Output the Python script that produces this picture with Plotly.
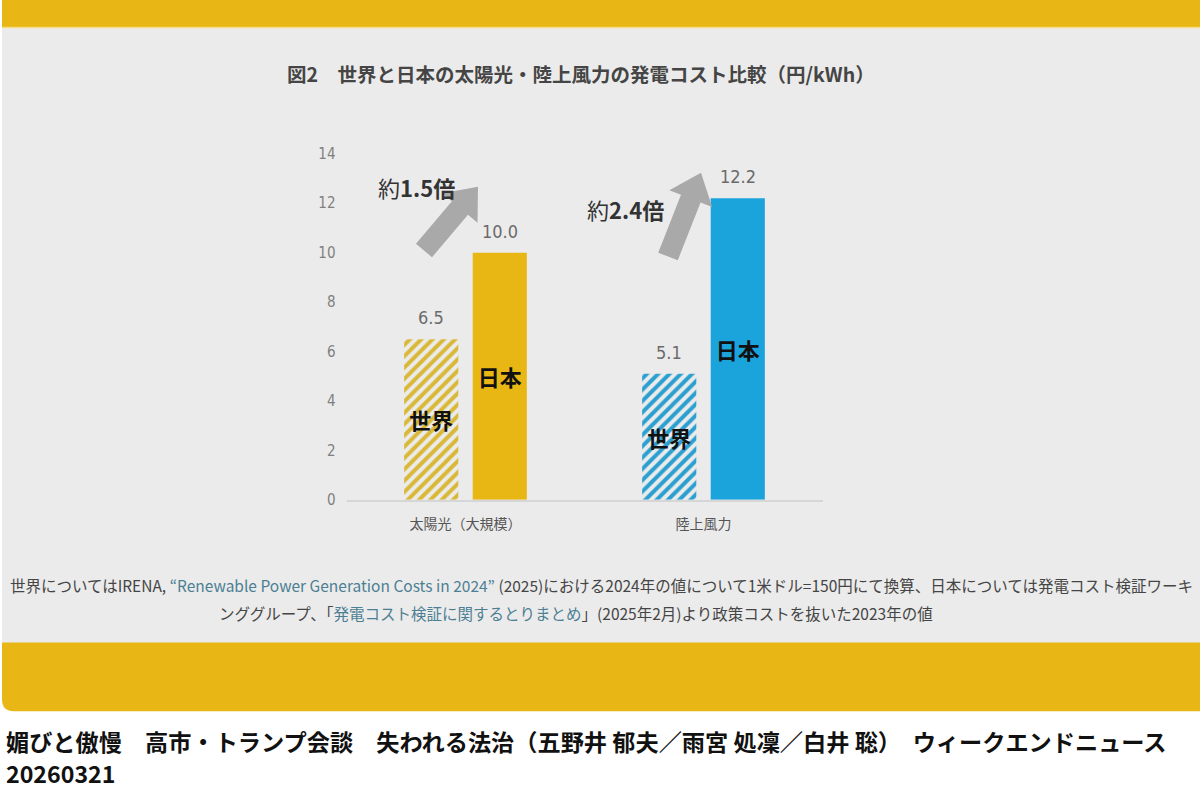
import math

import plotly.graph_objects as go

# data
CATEGORIES = ["太陽光（大規模）", "陸上風力"]
WORLD = [6.5, 5.1]
JAPAN = [10.0, 12.2]
SERIES_LABELS = ["世界", "日本"]
RATIO_LABELS = ["約<b>1.5倍</b>", "約<b>2.4倍</b>"]
Y_TICKS = [0, 2, 4, 6, 8, 10, 12, 14]

TITLE = "図2　世界と日本の太陽光・陸上風力の発電コスト比較（円/kWh）"
NOTE_1 = ("世界についてはIRENA, <span style='color:#4d7f93'>“Renewable Power Generation Costs in 2024”</span>"
          " (2025)における2024年の値について1米ドル=150円にて換算、日本については発電コスト検証ワーキ")
NOTE_2 = ("ンググループ、「<span style='color:#4d7f93'>発電コスト検証に関するとりまとめ</span>」"
          "(2025年2月)より政策コストを抜いた2023年の値")
CAPTION = ["媚びと傲慢　高市・トランプ会談　失われる法治（五野井 郁夫／雨宮 処凜／白井 聡）　ウィークエンドニュース",
           "20260321"]

# the shot sits 8px below the page top and is squeezed from 806 to 790 rows,
# so the figure is sized/positioned to land on the reference pixels
W, TOP, SCALE = 1200, 8, 790 / 806
H = 806 - TOP
YELLOW = "#e9b715"
PANEL = "#ebebeb"
SOLAR = "#e9b714"
WIND = "#1ba3dc"
STRIPE = ["#d9b837", "#2a9fd0"]
CJK = "Noto Sans CJK JP, Noto Sans, sans-serif"
NARROW = "Liberation Sans Narrow, DejaVu Sans Condensed, sans-serif"


def px(x):
    return x / W


def py(y):
    # y in reference-picture pixels from the top
    return 1 - (y / SCALE - TOP) / H


def rounded_left(x0, y0, x1, y1, r):
    """card outline with rounded left corners, paper units from pixel inputs"""
    return (f"M {px(x0)},{py(y0 + r)} Q {px(x0)},{py(y0)} {px(x0 + r)},{py(y0)} "
            f"L {px(x1)},{py(y0)} L {px(x1)},{py(y1)} L {px(x0 + r)},{py(y1)} "
            f"Q {px(x0)},{py(y1)} {px(x0)},{py(y1 - r)} Z")


def block_arrow(tail, tip, shaft=21, head=46, head_len=28):
    """fat arrow polygon (pixel in, paper path out)"""
    dx, dy = tip[0] - tail[0], tip[1] - tail[1]
    d = math.hypot(dx, dy)
    ux, uy = dx / d, dy / d
    nx, ny = -uy, ux
    neck = (tip[0] - ux * head_len, tip[1] - uy * head_len)
    pts = [
        (tail[0] + nx * shaft / 2, tail[1] + ny * shaft / 2),
        (neck[0] + nx * shaft / 2, neck[1] + ny * shaft / 2),
        (neck[0] + nx * head / 2, neck[1] + ny * head / 2),
        tip,
        (neck[0] - nx * head / 2, neck[1] - ny * head / 2),
        (neck[0] - nx * shaft / 2, neck[1] - ny * shaft / 2),
        (tail[0] - nx * shaft / 2, tail[1] - ny * shaft / 2),
    ]
    return "M " + " L ".join(f"{px(x)},{py(y)}" for x, y in pts) + " Z"


fig = go.Figure()

fig.add_trace(go.Bar(
    x=CATEGORIES, y=WORLD, name=SERIES_LABELS[0],
    text=[SERIES_LABELS[0]] * len(CATEGORIES),
    textposition="inside", insidetextanchor="middle",
    textfont=dict(family=CJK, size=22, color="#111111", weight="bold"),
    marker=dict(
        color=STRIPE,
        line=dict(width=0),
        pattern=dict(shape="/", bgcolor="#fbfbf8", size=8, solidity=0.5,
                     fillmode="replace"),
    ),
    hoverinfo="skip",
))
fig.add_trace(go.Bar(
    x=CATEGORIES, y=JAPAN, name=SERIES_LABELS[1],
    text=[SERIES_LABELS[1]] * len(CATEGORIES),
    textposition="inside", insidetextanchor="middle",
    textfont=dict(family=CJK, size=22, color="#111111", weight="bold"),
    marker=dict(color=[SOLAR, WIND], line=dict(width=0)),
    hoverinfo="skip",
))

# frame: yellow card with grey panel (top strip continues in the page background)
fig.add_shape(type="path", xref="paper", yref="paper", layer="below",
              path=rounded_left(2, -12, 1205, 712, 12), fillcolor=YELLOW, line_width=0)
fig.add_shape(type="rect", xref="paper", yref="paper", layer="below",
              x0=px(2), x1=px(1205), y0=py(643), y1=py(27), fillcolor=PANEL, line_width=0)
fig.add_shape(type="line", xref="paper", yref="paper", layer="below",
              x0=px(2), x1=px(1205), y0=py(26.5), y1=py(26.5),
              line=dict(color="#f6dc85", width=1.5))

# value labels above bars
for i, cat in enumerate(CATEGORIES):
    for shift, vals in ((-34.25, WORLD), (34.25, JAPAN)):
        fig.add_annotation(x=cat, y=vals[i], xref="x", yref="y", xshift=shift, yshift=9,
                           text=f"{vals[i]:.1f}", showarrow=False, xanchor="center",
                           yanchor="bottom",
                           font=dict(family=NARROW, size=18, color="#6a6a6a"))

# grey arrows and ratio labels
ARROWS = [((424, 250), (478, 186)), ((668, 256), (701, 172))]
RATIO_POS = [(416, 186), (625, 208)]
for (tail, tip), (lx, ly), lab in zip(ARROWS, RATIO_POS, RATIO_LABELS):
    fig.add_shape(type="path", xref="paper", yref="paper", path=block_arrow(tail, tip),
                  fillcolor="#a9a9a9", line_width=0)
    fig.add_annotation(x=px(lx), y=py(ly), xref="paper", yref="paper", text=lab,
                       showarrow=False, xanchor="center", yanchor="middle",
                       font=dict(family=CJK, size=22, color="#333333"))

# title
fig.add_annotation(x=px(581), y=py(73), xref="paper", yref="paper", text=f"<b>{TITLE}</b>",
                   showarrow=False, xanchor="center", yanchor="middle",
                   font=dict(family=CJK, size=19.5, color="#454545"))

# source notes
fig.add_annotation(x=px(601), y=py(585), xref="paper", yref="paper", text=NOTE_1,
                   showarrow=False, xanchor="center", yanchor="middle",
                   font=dict(family=CJK, size=15.5, color="#454545"))
fig.add_annotation(x=px(576), y=py(614), xref="paper", yref="paper", text=NOTE_2,
                   showarrow=False, xanchor="center", yanchor="middle",
                   font=dict(family=CJK, size=15.5, color="#454545"))

# video caption under the card
for line, cy in zip(CAPTION, (742, 774)):
    fig.add_annotation(x=px(4), y=py(cy), xref="paper", yref="paper", text=f"<b>{line}</b>",
                       showarrow=False, xanchor="left", yanchor="middle", align="left",
                       font=dict(family=CJK, size=23.2, color="#111111"))

fig.update_layout(
    width=W, height=H,
    margin=dict(l=0, r=0, t=0, b=0),
    paper_bgcolor="#ffffff", plot_bgcolor="rgba(0,0,0,0)",
    barmode="group", bargap=0.424, bargroupgap=0.21,
    showlegend=False,
    xaxis=dict(domain=[px(346.5), px(822.5)], showline=True, linecolor="#d6d6d6",
               linewidth=2, ticks="", showgrid=False, ticklabelstandoff=10,
               tickfont=dict(family=CJK, size=14, color="#555555")),
    yaxis=dict(domain=[py(500), py(153)], range=[0, 14], tickvals=Y_TICKS,
               showgrid=False, zeroline=False, showline=False, ticks="",
               ticklabelstandoff=10,
               tickfont=dict(family=NARROW, size=15, color="#808080")),
)

# no body margin, and paint the strip above the plot div yellow
PAGE_JS = ("var s=document.createElement('style');"
           "s.innerHTML='html,body{margin:0 !important;padding:0 !important;overflow:hidden;}';"
           "document.head.appendChild(s);document.body.style.margin='0';"
           "document.documentElement.style.background="
           "'linear-gradient(to bottom, #e9b715 0px, #e9b715 8px, #ffffff 8px)';")
fig.write_html("out.html", post_script=PAGE_JS, config={"displayModeBar": False})
